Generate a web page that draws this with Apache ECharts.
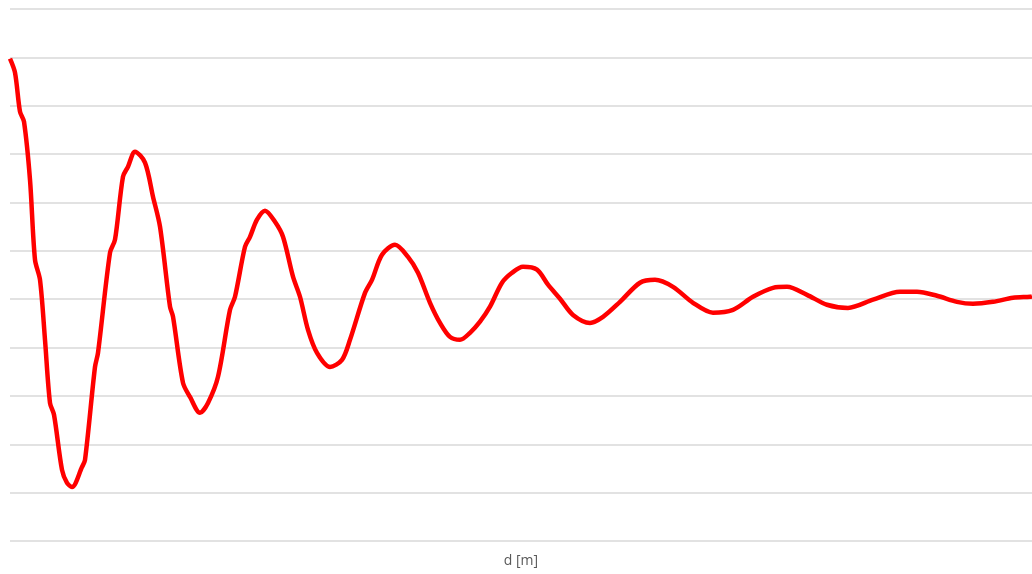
<!DOCTYPE html>
<html>
<head>
<meta charset="utf-8">
<script src="https://cdn.jsdelivr.net/npm/echarts@6/dist/echarts.min.js"></script>
<style>
  html, body { margin: 0; padding: 0; background: #fff; }
  #chart { width: 1032px; height: 574px; }
</style>
</head>
<body>
<div id="chart"></div>
<script>
// distance d [m]
let dValues = [
  0.00, 0.05, 0.10, 0.14, 0.20, 0.25, 0.30, 0.35, 0.40, 0.44,
  0.52, 0.57, 0.62, 0.72, 0.75, 0.85, 0.88, 1.00, 1.05, 1.13,
  1.18, 1.25, 1.35, 1.43, 1.50, 1.60, 1.63, 1.73, 1.80, 1.90,
  1.98, 2.08, 2.20, 2.25, 2.35, 2.40, 2.47, 2.55, 2.65, 2.73,
  2.83, 2.90, 2.98, 3.07, 3.20, 3.32, 3.40, 3.55, 3.62, 3.72,
  3.85, 3.98, 4.08, 4.20, 4.30, 4.40, 4.50, 4.60, 4.70, 4.80,
  4.92, 5.02, 5.13, 5.27, 5.38, 5.50, 5.63, 5.80, 5.93, 6.10,
  6.30, 6.45, 6.63, 6.83, 7.03, 7.23, 7.43, 7.63, 7.77, 7.97,
  8.17, 8.38, 8.63, 8.90, 9.07, 9.27, 9.47, 9.63, 9.83, 10.03,
  10.20, 10.22
]
// signal amplitude
let ampValues = [
  0.995, 0.937, 0.776, 0.734, 0.494, 0.163, 0.080, -0.168, -0.429, -0.478,
  -0.706, -0.760, -0.777, -0.694, -0.665, -0.280, -0.222, 0.192, 0.246, 0.507,
  0.548, 0.610, 0.565, 0.424, 0.300, -0.031, -0.072, -0.346, -0.404, -0.470,
  -0.429, -0.321, -0.044, 0.010, 0.217, 0.258, 0.329, 0.366, 0.320, 0.258,
  0.093, 0.010, -0.127, -0.222, -0.280, -0.251, -0.168, 0.026, 0.080, 0.184,
  0.225, 0.175, 0.109, -0.015, -0.098, -0.156, -0.168, -0.139, -0.093, -0.031,
  0.068, 0.109, 0.134, 0.122, 0.060, 0.002, -0.065, -0.098, -0.073, -0.011,
  0.068, 0.080, 0.051, -0.015, -0.056, -0.044, 0.010, 0.047, 0.051, 0.018,
  -0.023, -0.036, -0.002, 0.031, 0.031, 0.014, -0.011, -0.019, -0.011, 0.006,
  0.010, 0.012
]

let points = []
for (let i = 0; i < dValues.length; i++) {
  points.push([dValues[i], ampValues[i]])
}

let myChart = echarts.init(document.getElementById('chart'))
let option = {
  animation: false,
  grid: {
    top: 9,
    left: 10,
    right: 0,
    bottom: 33,
    outerBoundsMode: 'none'
  },
  xAxis: {
    type: 'value',
    min: 0,
    max: 10.22,
    name: 'd [m]',
    nameLocation: 'middle',
    nameGap: 13,
    nameTextStyle: {
      fontFamily: 'Open Sans',
      fontSize: 14,
      color: '#595959'
    },
    axisLine: { show: false },
    axisTick: { show: false },
    axisLabel: { show: false },
    splitLine: { show: false }
  },
  yAxis: {
    type: 'value',
    min: -1.0,
    max: 1.2,
    interval: 0.2,
    axisLine: { show: false },
    axisTick: { show: false },
    axisLabel: { show: false },
    splitLine: {
      show: true,
      lineStyle: {
        color: '#d9d9d9',
        width: 1.5
      }
    }
  },
  series: [{
    type: 'line',
    data: points,
    symbol: 'none',
    smooth: 0.3,
    lineStyle: {
      color: '#ff0000',
      width: 4.5
    }
  }]
}
myChart.setOption(option)
</script>
</body>
</html>
